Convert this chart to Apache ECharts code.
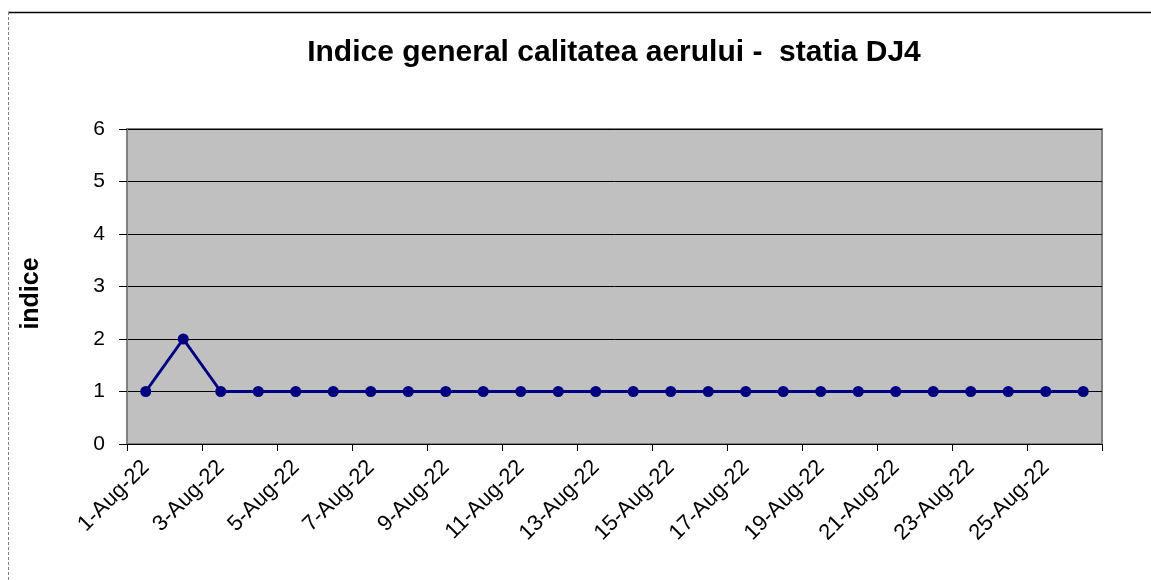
<!DOCTYPE html>
<html lang="ro">
<head>
    <meta charset="UTF-8">
    <title>Indice general calitatea aerului - statia DJ4</title>
    <script type="text/javascript" src="https://cdn.jsdelivr.net/npm/echarts@6/dist/echarts.min.js"></script>
    <style>
        html, body {
            margin: 0;
            padding: 0;
            background: #fff;
        }
        #main {
            width: 1151px;
            height: 580px;
        }
    </style>
</head>
<body>
<div id="main"></div>
<script>

    // zilele lunii (categorii)
    let zile = [
        '1-Aug-22', '2-Aug-22', '3-Aug-22', '4-Aug-22', '5-Aug-22', '6-Aug-22',
        '7-Aug-22', '8-Aug-22', '9-Aug-22', '10-Aug-22', '11-Aug-22', '12-Aug-22',
        '13-Aug-22', '14-Aug-22', '15-Aug-22', '16-Aug-22', '17-Aug-22', '18-Aug-22',
        '19-Aug-22', '20-Aug-22', '21-Aug-22', '22-Aug-22', '23-Aug-22', '24-Aug-22',
        '25-Aug-22', '26-Aug-22'
    ];
    // indice general
    let indice = [1, 2, 1, 1, 1, 1, 1, 1, 1, 1, 1, 1, 1, 1, 1, 1, 1, 1, 1, 1, 1, 1, 1, 1, 1, 1];
    let yMin = 0;
    let yMax = 6;
    let yStep = 1;

    let font = 'Arial, "Liberation Sans", sans-serif';

    var myChart = echarts.init(document.getElementById('main'));
    var option = {
        backgroundColor: '#fff',
        animation: false,
        title: {
            text: 'Indice general calitatea aerului -  statia DJ4',
            left: 609,
            top: 33,
            textAlign: 'center',
            textStyle: {
                fontFamily: font,
                fontSize: 30,
                fontWeight: 'bold',
                color: '#000'
            }
        },
        // chenarul exterior
        graphic: [
            {
                type: 'line',
                shape: {x1: 8, y1: 12.5, x2: 1151, y2: 12.5},
                style: {stroke: '#000', lineWidth: 1.5}
            },
            {
                type: 'line',
                shape: {x1: 8.5, y1: 12, x2: 8.5, y2: 580},
                style: {stroke: '#808080', lineWidth: 1, lineDash: [3, 2]}
            }
        ],
        grid: {
            left: 127,
            right: 49,
            top: 129,
            bottom: 136,
            show: true,
            backgroundColor: '#c0c0c0',
            borderColor: '#808080',
            borderWidth: 2
        },
        xAxis: {
            type: 'category',
            data: zile,
            boundaryGap: true,
            axisLine: {show: true, lineStyle: {color: '#000', width: 1}},
            axisTick: {show: true, interval: 1, length: 7, lineStyle: {color: '#000'}},
            axisLabel: {
                interval: 1,
                rotate: 45,
                margin: 20,
                fontFamily: font,
                fontSize: 22,
                color: '#000'
            },
            splitLine: {show: false}
        },
        yAxis: {
            type: 'value',
            min: yMin,
            max: yMax,
            interval: yStep,
            name: 'indice',
            nameLocation: 'middle',
            nameGap: 83,
            nameTextStyle: {
                fontFamily: font,
                fontSize: 25,
                fontWeight: 'bold',
                color: '#000',
                padding: [0, 14, 0, 0]
            },
            axisLine: {show: true, lineStyle: {color: '#808080', width: 1}},
            axisTick: {show: true, length: 8, lineStyle: {color: '#000'}},
            axisLabel: {
                margin: 22,
                fontFamily: font,
                fontSize: 21,
                color: '#000'
            },
            splitLine: {show: true, lineStyle: {color: '#000', width: 1}}
        },
        series: [{
            type: 'line',
            data: indice,
            symbol: 'circle',
            symbolSize: 11,
            lineStyle: {color: '#000080', width: 3},
            itemStyle: {color: '#000080'}
        }]
    };
    myChart.setOption(option);

</script>
</body>
</html>
